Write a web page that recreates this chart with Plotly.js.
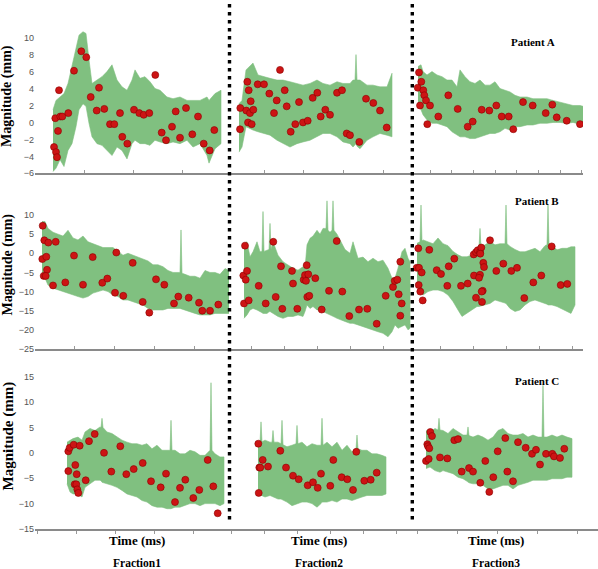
<!DOCTYPE html>
<html>
<head>
<meta charset="utf-8">
<script src="https://cdn.plot.ly/plotly-3.0.1.min.js"></script>
<style>html,body{margin:0;padding:0;background:#fff;}#chart{width:598px;height:569px;}</style>
</head>
<body>
<div id="chart"></div>
<script>
// ---------- Patient A ----------
// Fraction 1 : green signal envelope (upper / lower) and red sample points
const tA1  = [18,21,25,29,33,37,41,44,48,51,54,57,62,67,72,77,82,87,92,97,100,105,110,115,120,125,132,138,145,152,158,165,172,174,180,186];
const upA1 = [1.5,2.6,3.0,3.4,4.6,6.6,8.5,10.3,10.7,10.5,7.4,4.6,5.0,5.4,6.0,6.8,5.0,4.2,3.8,5.0,6.2,5.2,5.4,4.8,4.0,3.8,3.0,2.8,3.0,2.6,2.6,2.6,3.0,2.6,3.4,3.8];
const loA1 = [-5.8,-5.4,-4.4,-5.2,-3.3,-2.5,-0.5,1.5,2.2,1.9,-0.1,-1.7,-2.5,-2.7,-3.3,-3.9,-2.9,-3.3,-4.3,-2.5,-2.1,-2.5,-2.5,-2.7,-2.1,-2.3,-2.5,-2.3,-2.5,-2.1,-2.9,-2.5,-3.9,-4.8,-3.1,-2.5];
const dotTA1 = [19,20.3,21,22,23,24,25.3,27.3,33.3,39,46.3,51.3,55.7,61.7,64,69.3,75,79.3,85,87.3,92.3,99,104.3,108.7,114.3,120.3,126.7,131,137,140.7,145,151,157.3,163,168.7,174.7,179.3];
const dotVA1 = [-2.9,0.5,-3.5,-4.1,-1.0,3.8,0.7,0.7,1.1,6.1,8.4,7.7,3.0,1.4,4.1,1.6,-0.2,-0.2,1.1,-1.7,-2.5,1.5,1.1,0.9,1.1,5.6,-1.2,-2.1,-0.5,1.3,-1.8,1.7,-1.4,0.7,-2.5,-3.3,-0.9];
// Fraction 2
const tA2  = [10,13,17,21,24,29,34,41,48,54,61,68,74,81,88,94,101,108,114,121,124,126,127,128,131,138,144,151,158,163];
const upA2 = [2.2,2.6,6.2,6.6,7.0,5.6,5.4,5.2,5.0,5.0,4.8,4.6,4.4,4.6,5.0,4.6,4.4,4.8,4.6,4.6,5.0,5.0,8.0,5.0,5.0,4.4,4.4,4.2,4.2,5.8];
const loA2 = [-3.5,-2.9,-0.5,-0.7,-0.9,-1.1,-1.3,-1.5,-2.1,-2.5,-2.9,-2.5,-2.3,-2.1,-1.7,-1.3,-1.3,-1.7,-2.3,-2.5,-2.9,-2.6,-2.5,-2.8,-3.1,-2.1,-1.7,-1.3,-1.5,-1.7];
const dotTA2 = [11,11.3,17.3,18.3,19.7,19,21,21.7,22.7,24.3,28.7,35,40.3,45,47.7,51,55.7,57.7,61.7,66.3,70,74,78.7,83.7,88.3,91.7,96.3,101,108,113,117.7,121,130.3,137,144.3,151,157.7];
const dotVA2 = [-0.8,1.7,1.4,4.8,3.8,0.0,1.1,2.5,-0.2,1.5,4.5,4.5,3.4,1.1,2.6,6.2,3.8,1.9,-1.1,-0.2,2.4,0.0,0.2,2.9,3.5,0.7,1.5,0.9,3.5,3.8,-1.3,-1.5,-2.3,2.8,2.3,1.4,-0.6];
// Fraction 3
const tA3  = [6,9,11,15,20,25,30,35,40,45,48,53,58,63,68,73,78,83,88,93,98,103,108,115,121,128,135,141,148,155,161,168,171];
const upA3 = [6.6,6.8,6.0,5.6,6.0,5.6,5.4,5.0,5.0,4.2,6.2,5.4,4.8,4.6,5.0,4.4,4.4,4.8,4.0,3.8,3.6,3.2,3.0,3.0,2.8,2.8,2.8,2.6,2.4,2.2,2.0,2.0,1.9];
const loA3 = [1.9,1.5,0.9,0.3,-0.1,-0.1,-0.3,-0.5,-1.1,-1.5,-1.7,-1.7,-1.9,-1.9,-1.7,-1.5,-1.3,-1.3,-1.1,-0.7,-0.9,-0.5,-0.5,-0.3,-0.3,-0.1,-0.1,0.0,0.0,-0.1,0.0,-0.2,-0.1];
const dotTA3 = [5.7,7,9.3,11.3,12.3,14,8,18,15.3,26.3,36.3,45.7,55.7,60.7,69.7,77.3,84.3,89.7,96.7,101.3,111,120.7,133.7,140.3,144.7,154.7,168];
const dotVA3 = [4.1,5.9,4.8,3.8,3.2,2.6,2.0,2.0,-0.2,0.7,3.2,1.6,-0.5,0.1,1.5,1.4,2.0,0.7,0.7,-0.8,2.4,2.0,1.1,2.1,0.6,0.2,-0.2];

// ---------- Patient B ----------
const tB1  = [7,10,13,18,23,28,33,38,43,48,53,58,63,68,73,78,83,88,93,98,103,108,113,118,123,128,133,138,143,145,146,147,150,155,160,165,170,175,180,185,190,194];
const upB1 = [8.3,8.3,6.5,5.5,5.0,4.5,6.0,4.0,3.5,4.5,3.0,2.5,2.0,1.5,1.5,1.5,0.5,-0.5,0.0,-0.5,-1.0,-1.5,-2.0,-3.0,-3.0,-3.5,-4.5,-5.0,-5.0,-5.0,6.1,-5.2,-5.5,-6.0,-6.0,-6.5,-4.5,-5.0,-5.0,-5.5,-4.0,-4.5];
const loB1 = [-5.7,-6.5,-8.3,-9.1,-9.6,-10.0,-10.4,-10.9,-11.3,-11.7,-11.3,-10.4,-10.0,-9.6,-10.0,-10.9,-11.3,-12.2,-12.2,-12.6,-13.1,-13.5,-14.4,-14.8,-14.8,-14.8,-14.4,-14.4,-14.4,-14.4,-14.4,-14.5,-14.8,-15.2,-15.7,-16.1,-16.1,-16.1,-15.7,-15.7,-15.7,-15.7];
const dotTB1 = [7.7,7.3,9.3,13.3,11.3,12,8.7,10.7,18,20.7,30.3,39,48,57.7,67.3,72.3,80,81.3,88.3,97.7,107.7,114.3,121,129.3,139,143.3,153.7,164,167.3,175,183.3];
const dotVB1 = [7.2,-1.5,3.4,2.8,-0.9,-4.3,-5.9,-5.9,-8.4,3.0,-7.6,-0.6,-8.2,-1.0,-7.7,-6.6,-10.3,0.2,-11.1,-2.5,-12.7,-15.5,-6.8,-8.2,-13.1,-11.3,-11.6,-12.9,-15.0,-15.0,-13.4];
const tB2  = [15,18,21,24,28,31,33,34,35,38,40,41,42,44,49,54,59,64,69,74,76,78,81,84,88,91,94,97,98,99,101,103,104,105,108,111,116,121,124,129,134,139,144,149,154,159,163,166,169,173,176,179,181];
const upB2 = [2.5,3.0,-0.9,0.4,3.0,0.4,0.5,10.9,0.5,0.9,1.0,7.8,1.0,3.0,-0.5,-2.2,-3.0,-3.9,-4.4,-3.5,-3.9,2.2,3.9,4.5,6.0,5.0,6.5,6.5,13.7,6.0,5.5,6.0,13.7,6.0,5.0,3.5,1.0,0.0,3.0,-1.3,-1.0,-2.2,-1.3,-2.2,-1.8,-3.9,-6.5,-6.5,-3.9,0.4,1.3,-1.3,-2.2];
const loB2 = [-17.0,-16.1,-14.8,-14.4,-14.8,-15.2,-15.5,-15.7,-15.7,-15.7,-15.3,-15.2,-15.3,-15.7,-16.5,-17.0,-16.5,-16.5,-16.1,-16.5,-15.2,-13.5,-14.4,-13.9,-14.8,-14.8,-15.2,-15.6,-15.7,-15.8,-16.1,-16.4,-16.5,-16.6,-17.0,-17.4,-17.8,-18.3,-18.3,-18.7,-19.1,-19.6,-20.0,-20.5,-20.9,-21.8,-20.5,-18.7,-19.6,-19.1,-18.7,-20.0,-19.6];
const dotTB2 = [14.3,16,16.7,18,15,19.7,29.7,36.7,44.3,46.7,52,53.3,63,64,68.3,74.7,76,77,77.7,79.3,78.3,80.3,86.3,92.7,100,107.7,113.3,120.3,130,138.3,147.7,156.7,164,165.7,168.3,171.3,169.7,172.7,171.3];
const dotVB2 = [-5.8,2.0,-6.9,-4.6,-13.1,-12.3,-8.5,-13.1,3.0,-11.4,-3.4,-14.5,-4.6,-7.9,-14.5,-6.9,-5.7,-7.2,-3.1,-5.5,-11.4,-11.1,-6.5,-14.7,-9.8,3.2,-10.0,-16.4,-14.7,-14.5,-18.4,-11.1,-8.8,-7.2,-6.9,-2.2,-10.7,-13.1,-16.3];
const tB3  = [5,8,9,10,11,16,21,26,31,36,41,46,50,55,60,65,67,68,69,73,78,83,88,93,94,95,98,103,108,113,118,123,128,133,135,136,137,140,145,150,155,159,163];
const upB3 = [2.6,3.0,12.6,3.2,3.5,3.0,2.5,4.0,2.5,2.0,0.5,-0.4,-0.9,-0.9,-0.4,0.9,1.5,6.5,1.5,2.2,3.0,2.2,2.5,2.5,12.6,2.5,1.8,1.0,0.4,0.4,0.9,1.3,0.4,2.0,2.2,12.6,2.2,2.2,0.9,1.3,1.3,1.7,1.7];
const loB3 = [-8.3,-9.5,-10.0,-10.5,-10.9,-10.0,-9.6,-9.6,-10.0,-10.9,-12.6,-14.8,-16.5,-15.7,-14.8,-13.9,-13.9,-13.9,-13.9,-13.5,-13.1,-12.2,-12.6,-13.0,-13.1,-13.2,-14.4,-15.2,-14.8,-13.5,-12.6,-12.2,-12.6,-13.1,-13.3,-13.5,-13.5,-13.5,-13.9,-14.4,-15.2,-15.7,-13.5];
const dotTB3 = [6.3,4.7,7,9.7,6.7,8.3,10.7,17.3,24.7,29,36.7,42.3,35.3,49,55.7,61.7,64,65.7,68,69.3,68.3,71.3,72,62,68,67,70.7,69.7,64,70,78,84.3,91.3,99.3,105,112.3,121.3,129.3,139.7,148.7,155.3];
const dotVB3 = [1.3,-3.8,-3.8,-5.0,-8.3,-10.0,-12.3,0.9,-4.4,-5.4,-3.4,-1.4,-8.5,-8.5,-7.9,-0.3,0.3,0.8,0.3,1.5,-0.1,-2.5,-3.6,-5.8,-5.6,-6.4,-9.8,-10.0,-11.6,-12.7,3.4,-4.6,-2.7,-4.6,-3.8,-11.7,-7.6,-5.8,1.8,-8.3,-8.0];

// ---------- Patient C ----------
const tC1  = [32,35,38,43,47,50,55,60,65,66,67,68,72,77,82,87,92,97,102,107,112,117,122,127,132,135,136,137,140,145,150,155,160,165,170,175,176,177,180,185,189];
const upC1 = [2.1,2.5,2.8,3.1,2.5,4.1,4.8,4.4,5.1,5.0,6.8,5.0,4.1,3.8,3.1,2.5,2.1,1.8,1.8,1.5,1.8,0.8,1.5,0.5,0.5,0.5,6.4,0.5,0.5,-0.2,-0.2,0.5,0.2,-0.5,-0.5,0.5,13.8,0.5,-0.2,-0.8,-0.8];
const loC1 = [-6.1,-7.7,-8.1,-8.1,-8.7,-6.8,-6.1,-5.4,-5.4,-5.5,-5.8,-5.9,-6.1,-6.4,-6.8,-7.4,-8.1,-8.4,-8.7,-9.4,-9.7,-10.4,-10.7,-10.7,-11.0,-11.0,-11.0,-11.0,-10.7,-10.7,-10.4,-10.0,-10.0,-10.4,-10.0,-10.0,-10.0,-10.0,-10.0,-10.4,-10.0];
const dotTC1 = [33.3,33.3,34.7,38.7,40.3,41.7,39.7,41.3,42.3,43.3,44.7,50.7,54,59.7,69,76.3,85.3,91.3,98.7,107.7,116,125.7,131,140,145,150.3,158.3,164.3,172.7,178.3,182.7];
const dotVC1 = [-3.6,0.3,1.0,1.6,-2.4,-4.2,-6.2,-6.2,-7.2,-7.9,1.4,-5.4,2.3,3.7,0.0,-3.7,1.3,-4.2,-3.2,-2.0,-5.6,-6.8,-4.1,-9.7,-6.9,-5.3,-8.9,-7.3,-1.4,-6.6,-11.9];
const tC2  = [29,31,32,33,36,41,43,44,45,49,52,53,54,58,63,67,68,69,73,78,83,88,92,93,94,98,103,108,113,118,123,127,128,129,133,138,143,148,153,157];
const upC2 = [1.8,2.0,6.1,2.2,2.5,2.1,2.1,4.4,2.1,2.1,1.8,6.4,1.6,1.2,1.5,1.8,5.4,1.8,2.1,1.2,1.8,1.5,1.5,6.8,1.5,2.1,1.2,2.1,0.5,1.5,0.2,0.8,3.5,0.8,0.5,0.5,-0.2,-0.2,-0.5,-0.8];
const loC2 = [-8.1,-8.3,-8.4,-8.5,-8.7,-8.4,-8.6,-8.7,-8.8,-9.1,-9.1,-9.1,-9.2,-9.7,-10.4,-10.1,-10.0,-10.0,-9.7,-9.7,-10.0,-10.7,-10.0,-9.7,-9.7,-9.7,-9.4,-9.7,-9.1,-9.1,-9.4,-9.2,-9.1,-9.0,-8.7,-8.4,-8.4,-8.4,-8.4,-8.1];
const dotTC2 = [29.3,30.3,31.3,33.7,29.7,39,51.3,57,64,69.7,78.7,84,88.7,92,101.3,104.3,112.7,118.3,124,127.3,135.3,141.7,147.7];
const dotVC2 = [1.8,-2.9,-2.9,-1.4,-7.9,-2.7,0.4,-2.9,-4.5,-5.2,-6.4,-5.8,-6.9,-4.1,-6.5,-1.4,-4.8,-5.2,-7.3,0.2,-5.5,-5.3,-3.9];
const tC3  = [14,18,23,26,27,28,31,36,41,46,51,55,56,57,61,66,71,76,81,86,91,96,101,106,111,116,121,126,130,131,132,135,140,145,150,155,160];
const upC3 = [4.4,4.1,4.8,4.5,6.8,4.5,4.4,3.8,4.8,4.1,3.5,3.5,5.1,3.4,3.1,3.5,3.1,2.5,3.1,4.4,4.8,3.8,3.5,3.5,3.8,3.1,3.5,3.1,3.1,13.3,3.1,3.1,3.5,3.1,3.5,3.1,2.8];
const loC3 = [-3.1,-2.8,-3.5,-3.7,-3.8,-3.8,-3.5,-3.8,-4.1,-4.8,-5.1,-5.6,-5.8,-5.9,-6.1,-6.1,-6.4,-7.1,-7.1,-6.8,-6.4,-6.4,-7.1,-6.4,-6.1,-5.8,-5.4,-5.4,-5.4,-5.4,-5.4,-5.4,-5.1,-5.1,-5.1,-4.8,-4.8];
const dotTC3 = [14,15.3,16,17.3,16.7,18.3,20,28,35.3,42.3,46,49.7,57,61,68.3,73.3,77.3,81.3,85.7,93.3,95.3,101,106,113.7,120,124,128,134,140.3,142,148,152.3];
const dotVC3 = [-1.6,1.7,1.3,0.9,-1.2,4.1,3.3,-0.9,-1.1,2.5,2.7,-3.7,-3.0,-3.7,-5.9,-1.6,-7.7,-4.8,0.3,2.9,-3.7,-5.6,2.1,1.0,-0.2,0.6,-2.3,-0.2,-0.2,-0.7,-1.0,0.8];

// ---------- labels ----------
const patientLabels = ['Patient A','Patient B','Patient C'];
const fractionLabels = ['Fraction1','Fraction2','Fraction3'];
const xTitle = 'Time (ms)';
const yTitle = 'Magnitude (mm)';

// ---------- build ----------
const W = 598, H = 569;
const px = v => v / W;
const py = v => 1 - v / H;
const GREEN = 'rgb(128,192,128)';
const RED = 'rgb(204,20,20)';

const panels = [
  {t:tA1,up:upA1,lo:loA1,dt:dotTA1,dv:dotVA1},
  {t:tA2,up:upA2,lo:loA2,dt:dotTA2,dv:dotVA2},
  {t:tA3,up:upA3,lo:loA3,dt:dotTA3,dv:dotVA3},
  {t:tB1,up:upB1,lo:loB1,dt:dotTB1,dv:dotVB1},
  {t:tB2,up:upB2,lo:loB2,dt:dotTB2,dv:dotVB2},
  {t:tB3,up:upB3,lo:loB3,dt:dotTB3,dv:dotVB3},
  {t:tC1,up:upC1,lo:loC1,dt:dotTC1,dv:dotVC1},
  {t:tC2,up:upC2,lo:loC2,dt:dotTC2,dv:dotVC2},
  {t:tC3,up:upC3,lo:loC3,dt:dotTC3,dv:dotVC3}
];

// geometry (pixels)
const colX = [[35,229],[229,412],[412,583]];
const rowY = [[29.2,173.3],[199.7,349],[375.65,529]];
const yRanges = [[-6,11],[-25,14],[-15,15.2]];
const yDticks = [2,5,5];
const xTicks = [[0,49],[35,39.7],[18,21.7],[39,40],[22,33],[28,33],[41,39],[35,33],[45,40]];

const data = [];
const layout = {
  width: W, height: H,
  margin: {l:0, r:0, t:0, b:0},
  paper_bgcolor: '#fff', plot_bgcolor: 'rgba(0,0,0,0)',
  showlegend: false,
  annotations: [], shapes: []
};

panels.forEach((p, i) => {
  const row = Math.floor(i / 3), col = i % 3;
  const xn = i === 0 ? '' : String(i + 1);
  const yn = row === 0 ? '' : String(row + 1);
  const xa = 'x' + xn, ya = 'y' + yn;
  const bandX = p.t.concat(p.t.slice().reverse());
  const bandY = p.up.concat(p.lo.slice().reverse());
  data.push({
    type: 'scatter', mode: 'lines', x: bandX, y: bandY, fill: 'toself',
    fillcolor: GREEN, line: {color: GREEN, width: 0.6}, hoverinfo: 'skip',
    xaxis: xa, yaxis: ya
  });
  data.push({
    type: 'scatter', mode: 'markers', x: p.dt, y: p.dv,
    marker: {color: RED, size: 7, line: {color: 'rgb(140,0,0)', width: 0.6}},
    xaxis: xa, yaxis: ya
  });
  let x0 = colX[col][0], x1 = colX[col][1];
  if (row === 2 && col === 2) x1 = 598;
  layout['xaxis' + xn] = {
    domain: [px(x0), px(x1)], range: [0, x1 - x0], anchor: ya,
    showline: true, linecolor: '#8a8a8a', linewidth: 1.5,
    ticks: row === 2 ? 'outside' : 'inside', ticklen: 3, tickwidth: 1, tickcolor: '#999',
    tick0: xTicks[i][0], dtick: xTicks[i][1],
    showticklabels: false, showgrid: false, zeroline: false, fixedrange: true
  };
});

for (let r = 0; r < 3; r++) {
  const yn = r === 0 ? '' : String(r + 1);
  layout['yaxis' + yn] = {
    domain: [py(rowY[r][1]), py(rowY[r][0])], range: yRanges[r],
    anchor: r === 0 ? 'x' : 'x' + (r * 3 + 1),
    tick0: 0, dtick: yDticks[r], ticks: '', showline: false, showgrid: false, zeroline: false,
    tickfont: {family: 'Liberation Sans, Arial, sans-serif', size: 9, color: '#555'},
    fixedrange: true
  };
}

const serif = 'Liberation Serif, Times New Roman, serif';
// y titles
[[96.5,14],[265,14],[436,15]].forEach(([yc, fs]) => {
  layout.annotations.push({text: '<b>' + yTitle + '</b>', xref:'paper', yref:'paper',
    x: px(7.5), y: py(yc), xanchor:'center', yanchor:'middle', textangle: -90, showarrow:false,
    font:{family: serif, size: fs, color:'#000'}});
});
// x titles and fraction labels
[137, 319, 496].forEach((xc, k) => {
  layout.annotations.push({text: '<b>' + xTitle + '</b>', xref:'paper', yref:'paper',
    x: px(xc), y: py(540.5), xanchor:'center', yanchor:'middle', showarrow:false,
    font:{family: serif, size: 13, color:'#000'}});
  layout.annotations.push({text: '<b>' + fractionLabels[k] + '</b>', xref:'paper', yref:'paper',
    x: px(xc), y: py(563), xanchor:'center', yanchor:'middle', showarrow:false,
    font:{family: serif, size: 11.5, color:'#000'}});
});
// patient labels
[[533,42],[537,201],[537,381]].forEach(([xc, yc], k) => {
  layout.annotations.push({text: '<b>' + patientLabels[k] + '</b>', xref:'paper', yref:'paper',
    x: px(xc), y: py(yc), xanchor:'center', yanchor:'middle', showarrow:false,
    font:{family: serif, size: 11, color:'#000'}});
});
// dotted separators
[229.5, 412.3].forEach(xv => {
  layout.shapes.push({type:'line', xref:'paper', yref:'paper', x0: px(xv), x1: px(xv),
    y0: py(4), y1: py(524), line:{color:'#000', width:3.4, dash:'3.4px,4.6px'}, layer:'above'});
});

Plotly.newPlot('chart', data, layout, {staticPlot: true, displayModeBar: false});
</script>
</body>
</html>
